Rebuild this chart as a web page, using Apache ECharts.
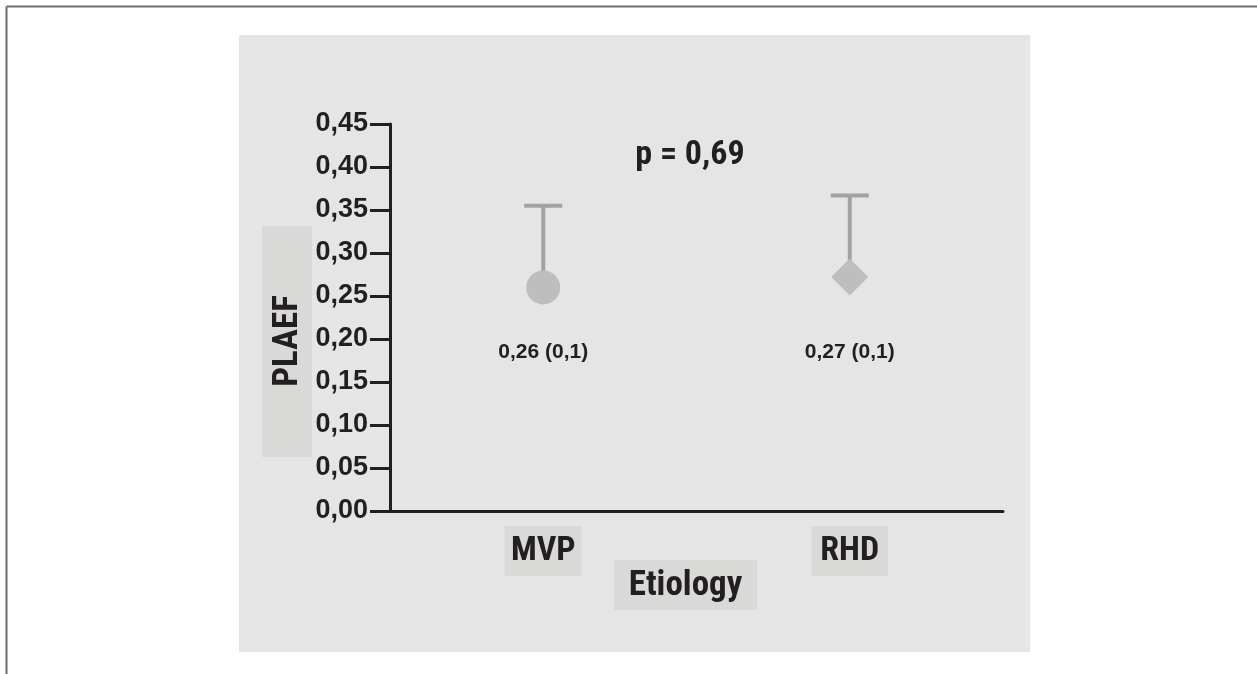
<!DOCTYPE html>
<html>
<head>
<meta charset="utf-8">
<title>PLAEF by etiology</title>
<script src="https://cdn.jsdelivr.net/npm/echarts@6/dist/echarts.min.js"></script>
<style>
  html, body { margin: 0; padding: 0; background: #fff; }
  #chart { width: 1257px; height: 674px; }
</style>
</head>
<body>
<div id="chart"></div>
<script>
// values
const categories = ['MVP', 'RHD'];
const means = [0.26, 0.272];
const upperSD = [0.355, 0.367];
const symbols = ['circle', 'diamond'];
const valueLabels = ['0,26 (0,1)', '0,27 (0,1)'];
const yTicks = [0, 0.05, 0.1, 0.15, 0.2, 0.25, 0.3, 0.35, 0.4, 0.45];
const labelLevel = 0.185;   // where the mean (sd) texts sit on the y scale
const pText = 'p = 0,69';

const narrow = "'Roboto Condensed', 'DejaVu Sans Condensed', sans-serif";
const wide = "'Liberation Sans', Arial, Helvetica, sans-serif";
const ink = '#231f20';

var chart = echarts.init(document.getElementById('chart'));

var option = {
    animation: false,
    backgroundColor: '#ffffff',
    grid: {
        left: 390, right: 254, top: 124, bottom: 163,
        containLabel: false, outerBoundsMode: 'none'
    },
    xAxis: {
        type: 'category',
        data: categories,
        boundaryGap: true,
        axisLine: { lineStyle: { color: ink, width: 3 } },
        axisTick: { alignWithLabel: true, length: 14, lineStyle: { color: ink, width: 3 } },
        axisLabel: {
            margin: 15,
            color: ink,
            fontFamily: narrow,
            fontWeight: 'bold',
            fontSize: 34,
            lineHeight: 34,
            width: 59,
            align: 'center',
            backgroundColor: '#d9d9d8',
            padding: [8, 9, 8, 9]
        },
        splitLine: { show: false }
    },
    yAxis: {
        type: 'value',
        min: yTicks[0],
        max: yTicks[yTicks.length - 1],
        interval: 0.05,
        axisLine: { show: true, lineStyle: { color: ink, width: 3 } },
        axisTick: { show: true, length: 20, lineStyle: { color: ink, width: 3 } },
        axisLabel: {
            margin: 22,
            color: ink,
            fontFamily: wide,
            fontWeight: 'bold',
            fontSize: 27,
            formatter: function (v) { return v.toFixed(2).replace('.', ','); }
        },
        splitLine: { show: false }
    },
    graphic: [
        // frame lines
        { type: 'line', z: -20, shape: { x1: 6.5, y1: 6.5, x2: 1257, y2: 6.5 }, style: { stroke: '#6e6e6e', lineWidth: 2 } },
        { type: 'line', z: -20, shape: { x1: 6.5, y1: 6.5, x2: 6.5, y2: 674 }, style: { stroke: '#6e6e6e', lineWidth: 2 } },
        // gray panel
        { type: 'rect', z: -20, shape: { x: 239, y: 35, width: 791, height: 617 }, style: { fill: '#e4e5e4' } },
        // y axis title
        { type: 'rect', z: -10, shape: { x: 262, y: 226, width: 50, height: 231 }, style: { fill: '#d9d9d8' } },
        {
            type: 'text', z: 10, x: 288, y: 341, rotation: Math.PI / 2,
            style: { text: 'PLAEF', fill: ink, font: "bold 35px 'Roboto Condensed', sans-serif", textAlign: 'center', textVerticalAlign: 'middle' }
        },
        // x axis title
        { type: 'rect', z: -10, shape: { x: 614, y: 560, width: 143, height: 50 }, style: { fill: '#d9d9d8' } },
        {
            type: 'text', z: 10, x: 685.5, y: 586,
            style: { text: 'Etiology', fill: ink, font: "bold 35px 'Roboto Condensed', sans-serif", textAlign: 'center', textVerticalAlign: 'middle' }
        },
        // p value
        {
            type: 'text', z: 10, x: 690, y: 155,
            style: { text: pText, fill: ink, font: "bold 34px 'Roboto Condensed', sans-serif", textAlign: 'center', textVerticalAlign: 'middle' }
        }
    ],
    series: [
        {
            name: 'SD',
            type: 'custom',
            z: 1,
            data: categories.map(function (c, i) { return [i, means[i], upperSD[i]]; }),
            renderItem: function (params, api) {
                var base = api.coord([api.value(0), api.value(1)]);
                var top = api.coord([api.value(0), api.value(2)]);
                var half = 19;
                var st = { stroke: '#a2a2a2', lineWidth: 4 };
                return {
                    type: 'group',
                    children: [
                        { type: 'line', shape: { x1: base[0], y1: base[1], x2: top[0], y2: top[1] }, style: st },
                        { type: 'line', shape: { x1: top[0] - half, y1: top[1], x2: top[0] + half, y2: top[1] }, style: st }
                    ]
                };
            }
        },
        {
            name: 'Mean',
            type: 'scatter',
            z: 3,
            data: categories.map(function (c, i) {
                return {
                    value: [c, means[i]],
                    symbol: symbols[i],
                    symbolSize: symbols[i] === 'diamond' ? 37 : 34
                };
            }),
            itemStyle: { color: '#bebebe', opacity: 1 }
        },
        {
            name: 'Labels',
            type: 'scatter',
            z: 4,
            symbolSize: 0,
            silent: true,
            itemStyle: { opacity: 1 },
            data: categories.map(function (c, i) { return [c, labelLevel]; }),
            label: {
                show: true,
                position: 'inside',
                color: ink,
                opacity: 1,
                fontFamily: wide,
                fontWeight: 'bold',
                fontSize: 21,
                formatter: function (p) { return valueLabels[p.dataIndex]; }
            }
        }
    ]
};

chart.setOption(option);
window.addEventListener('resize', function () { chart.resize(); });
</script>
</body>
</html>
